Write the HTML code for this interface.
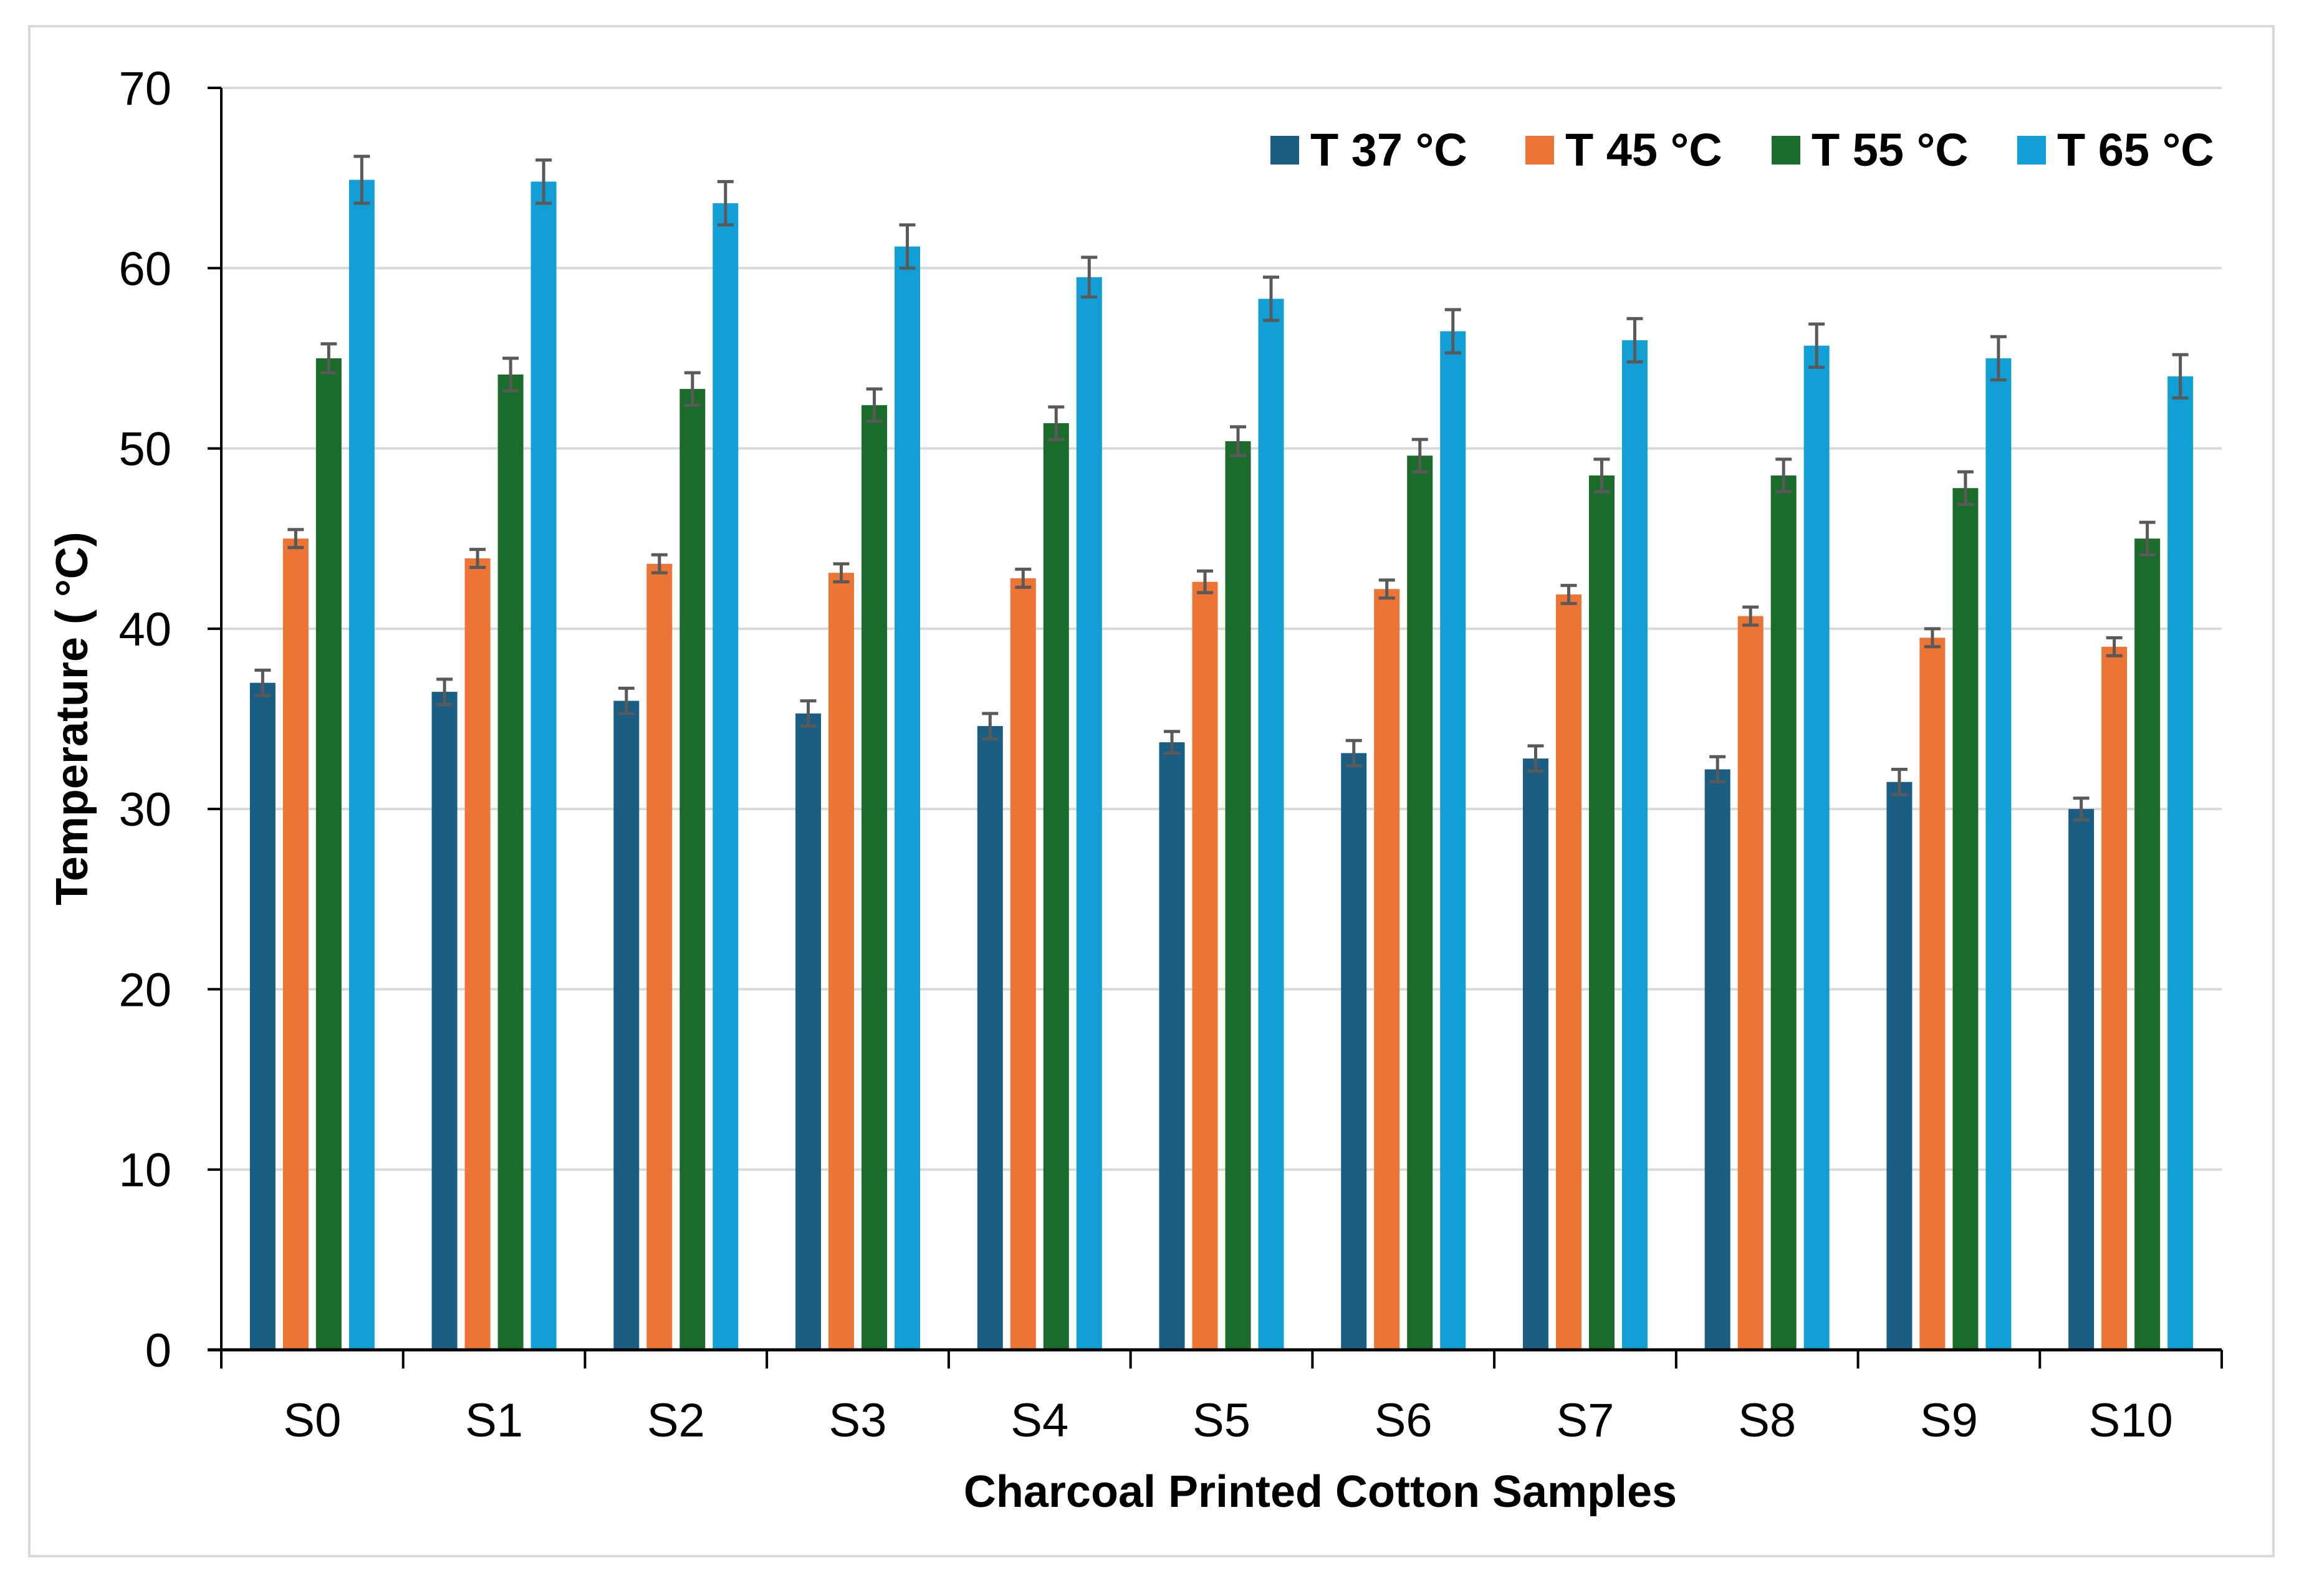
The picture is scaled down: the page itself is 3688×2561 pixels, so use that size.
<!DOCTYPE html>
<html><head><meta charset="utf-8"><style>
html,body{margin:0;padding:0;background:#fff;}
svg{display:block;font-family:"Liberation Sans",Arial,sans-serif;}
</style></head><body>
<svg id="chart" width="3688" height="2561" viewBox="0 0 3688 2561" xmlns="http://www.w3.org/2000/svg">
<rect x="47" y="42" width="3600" height="2455" fill="#fff" stroke="#d9d9d9" stroke-width="4"/>
<g id="grid"></g><g id="bars"></g><g id="axes"></g>
<text transform="translate(140,1153) rotate(-90)" text-anchor="middle" font-size="72" font-weight="bold">Temperature ( °C)</text>
<text x="2118" y="2418" text-anchor="middle" font-size="72" font-weight="bold">Charcoal Printed Cotton Samples</text>
<g id="legend"></g>
</svg>
<script>
const categories=["S0","S1","S2","S3","S4","S5","S6","S7","S8","S9","S10"];
const seriesNames=["T 37 °C","T 45 °C","T 55 °C","T 65 °C"];
const t37=[37.0,36.5,36.0,35.3,34.6,33.7,33.1,32.8,32.2,31.5,30.0];
const t45=[45.0,43.9,43.6,43.1,42.8,42.6,42.2,41.9,40.7,39.5,39.0];
const t55=[55.0,54.1,53.3,52.4,51.4,50.4,49.6,48.5,48.5,47.8,45.0];
const t65=[64.9,64.8,63.6,61.2,59.5,58.3,56.5,56.0,55.7,55.0,54.0];
const err37=[0.7,0.7,0.7,0.7,0.7,0.6,0.7,0.7,0.7,0.7,0.6];
const err45=[0.5,0.5,0.5,0.5,0.5,0.6,0.5,0.5,0.5,0.5,0.5];
const err55=[0.8,0.9,0.9,0.9,0.9,0.8,0.9,0.9,0.9,0.9,0.9];
const err65=[1.3,1.2,1.2,1.2,1.1,1.2,1.2,1.2,1.2,1.2,1.2];
const yTicks=[0,10,20,30,40,50,60,70];
const colors=["#1a5e83","#ec7434","#1b6b2a","#119fd6"];
const NS="http://www.w3.org/2000/svg";
const X0=355,X1=3564,Y0=2166,Y70=141;
const catW=(X1-X0)/categories.length;
const y=v=>Y0-(v/70)*(Y0-Y70);
const barW=41,pitch=53;
function mk(tag,attrs,parent){const e=document.createElementNS(NS,tag);for(const k in attrs)e.setAttribute(k,attrs[k]);parent.appendChild(e);return e;}
const grid=document.getElementById('grid'),bars=document.getElementById('bars'),axes=document.getElementById('axes'),legend=document.getElementById('legend');
yTicks.forEach(t=>{
  if(t>0){const g=mk('line',{x1:X0,x2:X1,y1:y(t),y2:y(t),stroke:'#d9d9d9','stroke-width':4},grid);
  
  }
  const tk=mk('line',{x1:X0-22,x2:X0,y1:y(t),y2:y(t),stroke:'#000','stroke-width':4},axes);
  
  
  const lb=mk('text',{x:275,y:y(t)+27,'text-anchor':'end','font-size':76},axes);lb.textContent=t;
  
  
});
const series=[t37,t45,t55,t65],errs=[err37,err45,err55,err65];
const groupW=3*pitch+barW;
categories.forEach((c,i)=>{
  const gx=X0+i*catW+(catW-groupW)/2;
  series.forEach((s,j)=>{
    const bx=gx+j*pitch;
    const r=mk('rect',{x:bx,y:y(s[i]),width:barW,height:Y0-y(s[i]),fill:colors[j]},bars);
    
    
    const cx=bx+barW/2,e=errs[j][i];
    const eb=mk('path',{d:`M${cx},${y(s[i]+e)}V${y(s[i]-e)}M${cx-13},${y(s[i]+e)}H${cx+13}M${cx-13},${y(s[i]-e)}H${cx+13}`,stroke:'#595959','stroke-width':5,fill:'none'},bars);
    
    
  });
  const lb=mk('text',{x:X0+(i+0.5)*catW,y:2305,'text-anchor':'middle','font-size':76},axes);lb.textContent=c;
  
  
});
for(let i=0;i<=categories.length;i++){
  const t=mk('line',{x1:X0+i*catW,x2:X0+i*catW,y1:Y0,y2:Y0+30,stroke:'#000','stroke-width':4},axes);
  
  
}
const ya=mk('line',{x1:X0,x2:X0,y1:Y70,y2:Y0,stroke:'#000','stroke-width':4},axes);


const xa=mk('line',{x1:X0-22,x2:X1,y1:Y0,y2:Y0,stroke:'#000','stroke-width':5},axes);


const legX=[2038,2447,2842,3236];
seriesNames.forEach((n,j)=>{
  const g=mk('g',{},legend);
  
  
  mk('rect',{x:legX[j],y:218,width:46,height:46,fill:colors[j]},g);
  const t=mk('text',{x:legX[j]+64,y:266,'font-size':74,'font-weight':'bold'},g);t.textContent=n;
});
</script>
</body></html>
